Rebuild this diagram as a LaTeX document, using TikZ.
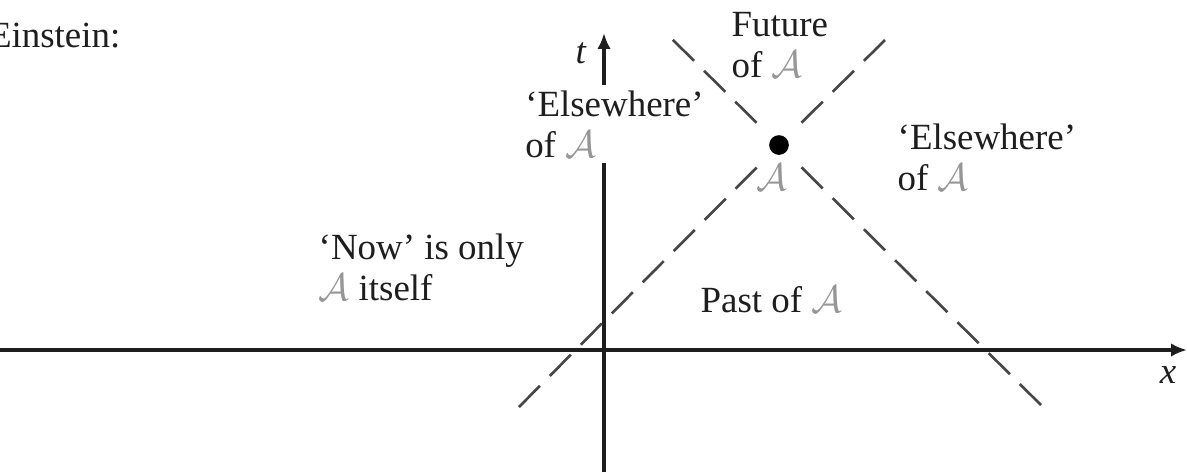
\documentclass[tikz,border=0pt]{standalone}
\usepackage{fontspec}
\setmainfont{Liberation Serif}
\usetikzlibrary{positioning,arrows.meta}
\definecolor{inkgray}{RGB}{30,30,30}
\definecolor{conegray}{RGB}{70,70,70}
\definecolor{eventgray}{RGB}{150,150,150}
\newcommand{\evA}{\textcolor{eventgray}{$\mathcal{A}$}}

\begin{document}
\begin{tikzpicture}[
  x=0.01cm, y=-0.01cm,
  font=\fontsize{10.5pt}{11.6pt}\selectfont,
  axis/.style={draw=inkgray, line width=1.1pt, -{Latex[length=4.5pt,width=3.8pt]}},
  cone/.style={draw=conegray, line width=0.75pt, dash pattern=on 8.5pt off 4pt, shorten <=6pt},
  lbl/.style={inner sep=0pt, align=left, text=inkgray, anchor=base west},
  event/.style={circle, fill=black, inner sep=0pt, minimum size=5.6pt}
]
  \useasboundingbox (0,0) rectangle (1187,472);

  % Axes
  \coordinate (xL) at (0,350);
  \coordinate (xR) at (1187,350);
  \coordinate (tB) at (604,472);
  \coordinate (tT) at (604,33);
  \draw[axis] (xL) -- (xR);
  \draw[axis] (tB) -- (tT);

  % Event and light cone
  \node[event] (A) at (779,145) {};
  \coordinate (pastL) at (509,417);
  \coordinate (futR) at (885,40);
  \coordinate (futL) at (670,37);
  \coordinate (pastR) at (1048,412);
  \draw[cone] (A) -- (pastL);
  \draw[cone] (A) -- (futR);
  \draw[cone] (A) -- (futL);
  \draw[cone] (A) -- (pastR);

  % Labels (base = last line)
  \node[lbl, anchor=base east] (einstein) at (121,47) {Einstein:};
  \node[lbl, anchor=base] (tlab) at (581,63) {\textit{t}};
  \node[lbl, anchor=base] (xlab) at (1168,383) {\textit{x}};
  \node[lbl] (future) at (731,77) {Future\\of \evA};
  \node[lbl, fill=white, inner xsep=3pt, inner ysep=1.5pt] (elseL) at (514,157) {`Elsewhere'\\of \evA};
  \node[lbl] (elseR) at (897,190) {`Elsewhere'\\of \evA};
  \node[lbl, anchor=base] (Alab) at (772,190) {\evA};
  \node[lbl] (now) at (318,300) {`Now' is only\\\evA{} itself};
  \node[lbl] (past) at (700,312) {Past of \evA};

\end{tikzpicture}
\end{document}
